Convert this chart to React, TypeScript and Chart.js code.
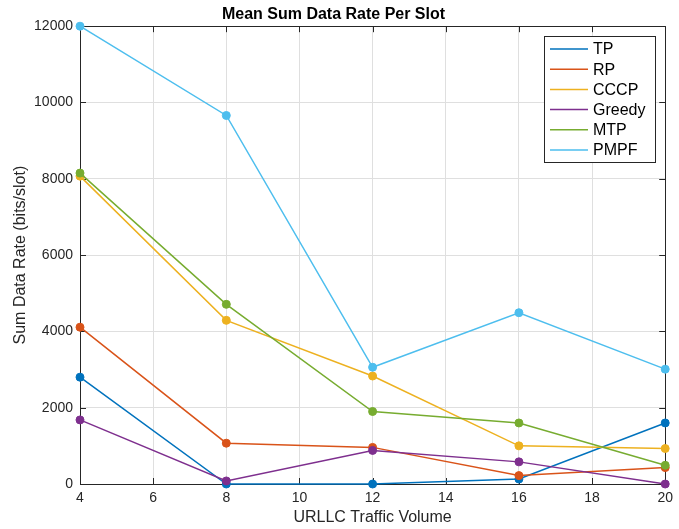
import React, { useEffect, useRef } from "react";
import { Chart, registerables } from "chart.js";

Chart.register(...registerables);

const trafficVolume = [4, 8, 12, 16, 20];
const tp = [2800, 0, 0, 130, 1600];
const rp = [4110, 1070, 960, 220, 430];
const cccp = [8070, 4290, 2830, 1000, 930];
const greedy = [1680, 80, 880, 580, 0];
const mtp = [8150, 4710, 1900, 1600, 490];
const pmpf = [12000, 9660, 3060, 4490, 3010];

const seriesNames = ["TP", "RP", "CCCP", "Greedy", "MTP", "PMPF"];
const seriesValues = [tp, rp, cccp, greedy, mtp, pmpf];
const seriesColors = ["#0072BD", "#D95319", "#EDB120", "#7E2F8E", "#77AC30", "#4DBEEE"];

const titleText = "Mean Sum Data Rate Per Slot";
const xTitle = "URLLC Traffic Volume";
const yTitle = "Sum Data Rate (bits/slot)";

const FONT = "'Liberation Sans', Arial, Helvetica, sans-serif";
const TEXT = "#262626";

const framePlugin = {
  id: "frame",
  beforeDatasetsDraw(chart: any) {
    const { ctx, chartArea } = chart;
    const { left, right, top, bottom } = chartArea;
    const xs = chart.scales.x;
    const ys = chart.scales.y;
    ctx.save();
    ctx.strokeStyle = "#262626";
    ctx.lineWidth = 1;
    ctx.beginPath();
    ctx.rect(Math.round(left) + 0.5, Math.round(top) + 0.5, Math.round(right) - Math.round(left), Math.round(bottom) - Math.round(top));
    ctx.stroke();
    const tl = 6;
    ctx.beginPath();
    xs.ticks.forEach((t: any) => {
      const px = Math.round(xs.getPixelForValue(t.value)) + 0.5;
      ctx.moveTo(px, bottom);
      ctx.lineTo(px, bottom - tl);
      ctx.moveTo(px, top);
      ctx.lineTo(px, top + tl);
    });
    ys.ticks.forEach((t: any) => {
      const py = Math.round(ys.getPixelForValue(t.value)) + 0.5;
      ctx.moveTo(left, py);
      ctx.lineTo(left + tl, py);
      ctx.moveTo(right, py);
      ctx.lineTo(right - tl, py);
    });
    ctx.stroke();
    ctx.restore();
  },
  afterDraw(chart: any) {
    const { ctx } = chart;
    const boxL = 544, boxT = 36, boxW = 111, boxH = 126;
    ctx.save();
    ctx.fillStyle = "#ffffff";
    ctx.fillRect(boxL, boxT, boxW, boxH);
    ctx.strokeStyle = "#262626";
    ctx.lineWidth = 1;
    ctx.strokeRect(boxL + 0.5, boxT + 0.5, boxW, boxH);
    ctx.font = `16px ${FONT}`;
    ctx.textBaseline = "middle";
    ctx.textAlign = "left";
    chart.data.datasets.forEach((ds: any, i: number) => {
      const y = 49 + i * 20.2;
      ctx.strokeStyle = ds.borderColor;
      ctx.lineWidth = 1.5;
      ctx.beginPath();
      ctx.moveTo(550, y);
      ctx.lineTo(588, y);
      ctx.stroke();
      ctx.fillStyle = "#000000";
      ctx.fillText(ds.label, 593, y + 1);
    });
    ctx.restore();
  },
};

export default function App() {
  const ref = useRef<HTMLCanvasElement>(null);
  useEffect(() => {
    if (!ref.current) return;
    const chart = new Chart(ref.current, {
      type: "line",
      data: {
        datasets: seriesNames.map((name, i) => ({
          label: name,
          data: trafficVolume.map((x, j) => ({ x, y: seriesValues[i][j] })),
          borderColor: seriesColors[i],
          backgroundColor: seriesColors[i],
          pointBackgroundColor: seriesColors[i],
          pointBorderColor: seriesColors[i],
          borderWidth: 1.5,
          pointRadius: 4,
          pointBorderWidth: 1,
          tension: 0,
          clip: false as any,
          order: seriesNames.length - i,
        })),
      },
      options: {
        responsive: false,
        animation: false,
        devicePixelRatio: 1,
        layout: { padding: { top: 0, right: 12, bottom: 0, left: 0 } },
        plugins: {
          legend: { display: false },
          tooltip: { enabled: false },
          title: {
            display: true,
            text: titleText,
            color: "#000000",
            font: { family: FONT, size: 16, weight: "bold" },
            padding: { top: 5, bottom: 2 },
          },
        },
        scales: {
          x: {
            type: "linear",
            min: 4,
            max: 20,
            afterFit: (s: any) => { s.height = 45; },
            ticks: { stepSize: 2, color: TEXT, font: { family: FONT, size: 14 }, padding: 6, maxRotation: 0 },
            grid: { color: "#dfdfdf", drawTicks: false },
            border: { display: false },
            title: { display: true, text: xTitle, color: TEXT, font: { family: FONT, size: 16 }, padding: { top: 0, bottom: 2 } },
          },
          y: {
            type: "linear",
            min: 0,
            max: 12000,
            afterFit: (s: any) => { s.width = 80; },
            ticks: { stepSize: 2000, color: TEXT, font: { family: FONT, size: 14 }, padding: 7, callback: (v: any) => String(v) },
            grid: { color: "#dfdfdf", drawTicks: false },
            border: { display: false },
            title: { display: true, text: yTitle, color: TEXT, font: { family: FONT, size: 16 }, padding: { top: 11, bottom: 0 } },
          },
        },
      },
      plugins: [framePlugin],
    });
    return () => chart.destroy();
  }, []);
  return (
    <div style={{ position: "absolute", left: 0, top: 0, width: 679, height: 529, background: "#ffffff" }}>
      <canvas ref={ref} width={679} height={529} />
    </div>
  );
}
